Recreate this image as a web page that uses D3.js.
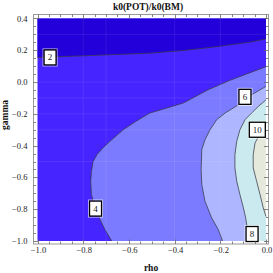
<!DOCTYPE html>
<html><head><meta charset="utf-8">
<script src="https://cdn.jsdelivr.net/npm/d3@7"></script>
<style>body{margin:0;background:#fff}svg{display:block}</style>
</head><body>
<script>
// ---- data (rho, gamma) ----
const title = "k0(POT)/k0(BM)";
const xLabel = "rho", yLabel = "gamma";
const xTicks = [-1.0,-0.8,-0.6,-0.4,-0.2,0.0];
const yTicks = [-1.0,-0.8,-0.6,-0.4,-0.2,0.0,0.2,0.4];
const levels = [2,4,6,8,10];
const bandColors = ["#2300da","#4524ff","#7b7bff","#adb6ff","#cbeaef","#e5e9db"];
const contour2 = [[-1,0.155],[-0.8,0.165],[-0.508,0.182],[-0.363,0.198],[-0.214,0.223],[-0.07,0.251],[0,0.271]];
const contour4 = [[-0.675,-1.0],[-0.705,-0.928],[-0.726,-0.865],[-0.748,-0.79],[-0.764,-0.708],[-0.767,-0.626],[-0.764,-0.564],[-0.757,-0.501],[-0.74,-0.457],[-0.713,-0.413],[-0.683,-0.373],[-0.625,-0.3],[-0.581,-0.258],[-0.522,-0.206],[-0.508,-0.195],[-0.362,-0.132],[-0.254,-0.049],[-0.158,0.011],[0,0.097]];
const contour6 = [[0,-0.027],[-0.063,-0.08],[-0.121,-0.143],[-0.179,-0.195],[-0.216,-0.237],[-0.245,-0.3],[-0.267,-0.363],[-0.281,-0.425],[-0.284,-0.551],[-0.281,-0.645],[-0.267,-0.75],[-0.238,-0.854],[-0.209,-0.928],[-0.19,-1.0]];
const contour8 = [[0,-0.112],[-0.034,-0.154],[-0.063,-0.195],[-0.092,-0.237],[-0.114,-0.3],[-0.128,-0.373],[-0.136,-0.457],[-0.136,-0.54],[-0.128,-0.624],[-0.114,-0.708],[-0.099,-0.791],[-0.089,-0.854],[-0.081,-0.928],[-0.07,-1.0]];
const contour10 = [[0,-0.262],[-0.018,-0.3],[-0.034,-0.346],[-0.048,-0.383],[-0.056,-0.457],[-0.056,-0.54],[-0.041,-0.624],[-0.026,-0.708],[-0.012,-0.791],[0,-0.846]];
const labelPos = [[-0.945,0.155],[-0.746,-0.796],[-0.092,-0.093],[-0.061,-0.956],[-0.038,-0.3]];
const labelText = ["2","4","6","8","10"];
const meshRho = [-0.8,-0.7,-0.4,-0.2];
const meshGamma = [0.3,0.0,-0.1,-0.2,-0.3,-0.5];

const W = 273, H = 273;
const svg = d3.select("body").append("svg").attr("width",W).attr("height",H);
const x = d3.scaleLinear().domain([-1,0]).range([37.5,266]);
const y = d3.scaleLinear().domain([-1,0.4]).range([241,18.5]);
const serif = "'Liberation Serif','DejaVu Serif',serif";
const line = d3.line().x(d=>x(d[0])).y(d=>y(d[1]));

const g = svg.append("g");
// base band 2-4
g.append("rect").attr("x",x(-1)).attr("y",y(0.4)).attr("width",x(0)-x(-1)).attr("height",y(-1)-y(0.4)).attr("fill",bandColors[1]);
// below 2 (top)
g.append("path").attr("d", line(contour2.concat([[0,0.4],[-1,0.4]])) + "Z").attr("fill",bandColors[0]);
// >=4
g.append("path").attr("d", line(contour4.concat([[0,-1]])) + "Z").attr("fill",bandColors[2]);
// >=6
g.append("path").attr("d", line(contour6.concat([[0,-1]])) + "Z").attr("fill",bandColors[3]);
// >=8
g.append("path").attr("d", line(contour8.concat([[0,-1]])) + "Z").attr("fill",bandColors[4]);
// >=10
g.append("path").attr("d", line(contour10) + "Z").attr("fill",bandColors[5]);

// faint mesh
meshRho.forEach(v=>g.append("line").attr("x1",x(v)).attr("x2",x(v)).attr("y1",y(0.4)).attr("y2",y(-1)).attr("stroke","#fff").attr("stroke-opacity",0.08));
meshGamma.forEach(v=>g.append("line").attr("y1",y(v)).attr("y2",y(v)).attr("x1",x(-1)).attr("x2",x(0)).attr("stroke","#fff").attr("stroke-opacity",0.08));

// contour lines
[contour2,contour4,contour6,contour8,contour10].forEach(c=>{
  g.append("path").attr("d",line(c)).attr("fill","none").attr("stroke","#3a3a4a").attr("stroke-width",0.9).attr("stroke-opacity",0.85);
});

// labels
labelPos.forEach((p,i)=>{
  const t = labelText[i];
  const w = t.length>1 ? 16 : 12, h = 15;
  const cx = x(p[0]), cy = y(p[1]);
  g.append("rect").attr("x",cx-w/2-1).attr("y",cy-h/2-1).attr("width",w+2).attr("height",h+2).attr("fill","none").attr("stroke","#fff").attr("stroke-opacity",0.7);
  g.append("rect").attr("x",cx-w/2).attr("y",cy-h/2).attr("width",w).attr("height",h).attr("fill","#fff").attr("stroke","#000").attr("stroke-width",1.3);
  g.append("text").attr("x",cx).attr("y",cy+3).attr("text-anchor","middle").attr("font-family",serif).attr("font-size",9).attr("fill","#222").text(t);
});

// frame
const fx0=33.5, fx1=268.5, fy0=14.5, fy1=244;
svg.append("rect").attr("x",fx0).attr("y",fy0).attr("width",fx1-fx0).attr("height",fy1-fy0).attr("fill","none").attr("stroke","#999").attr("stroke-width",1);

// ticks
const tk = svg.append("g").attr("stroke","#666").attr("stroke-width",0.8);
const minorX = d3.range(-1,0.0001,0.05), minorY = d3.range(-1,0.4001,0.05);
const isMajor = v => Math.abs(Math.round(v*5)-v*5)<1e-6;
minorX.forEach(v=>{
  const L = isMajor(v)?4.5:2.5, px = Math.round(x(v))+0.5;
  tk.append("line").attr("x1",px).attr("x2",px).attr("y1",fy1).attr("y2",fy1-L);
  tk.append("line").attr("x1",px).attr("x2",px).attr("y1",fy0).attr("y2",fy0+L);
});
minorY.forEach(v=>{
  const L = isMajor(v)?4.5:2.5, py = Math.round(y(v))+0.5;
  tk.append("line").attr("y1",py).attr("y2",py).attr("x1",fx0).attr("x2",fx0+L);
  tk.append("line").attr("y1",py).attr("y2",py).attr("x1",fx1).attr("x2",fx1-L);
});
const fmt = v => (v<0?"\u2212":"") + Math.abs(v).toFixed(1);
xTicks.forEach(v=>svg.append("text").attr("x",x(v)+1).attr("y",253).attr("text-anchor","middle").attr("font-family",serif).attr("font-size",8.5).attr("fill","#222").text(fmt(v)));
yTicks.forEach(v=>svg.append("text").attr("x",27.5).attr("y",y(v)+3).attr("text-anchor","end").attr("font-family",serif).attr("font-size",8.5).attr("fill","#222").text(fmt(v)));

// titles
svg.append("text").attr("x",148).attr("y",10).attr("text-anchor","middle").attr("font-family",serif).attr("font-weight","bold").attr("font-size",9.5).attr("fill","#111").text(title);
svg.append("text").attr("x",151).attr("y",271).attr("text-anchor","middle").attr("font-family",serif).attr("font-weight","bold").attr("font-size",9.5).attr("fill","#111").text(xLabel);
svg.append("text").attr("transform","translate(8,115) rotate(-90)").attr("text-anchor","middle").attr("font-family",serif).attr("font-weight","bold").attr("font-size",9.5).attr("fill","#111").text(yLabel);
</script>
</body></html>
